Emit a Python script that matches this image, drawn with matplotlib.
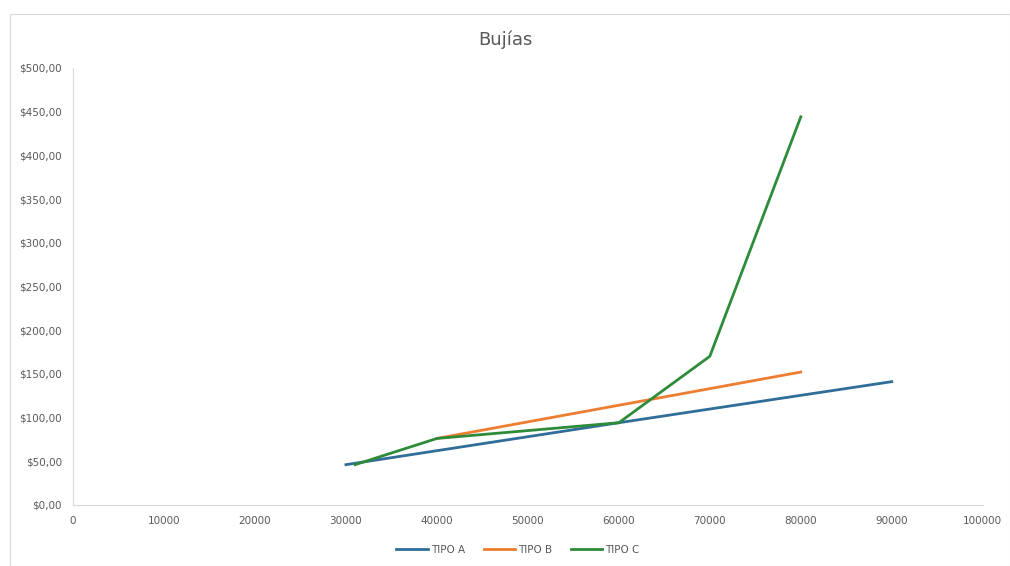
import matplotlib.pyplot as plt
from matplotlib.patches import Rectangle
from matplotlib.ticker import FuncFormatter

# datos
km_a = [30000, 60000, 90000]
tipo_a = [46, 94, 141]
km_b = [40000, 80000]
tipo_b = [76, 152]
km_c = [31000, 40000, 50000, 60000, 70000, 80000]
tipo_c = [46, 76, 85, 94, 170, 444]

fig = plt.figure(figsize=(10.1, 5.66), dpi=100)
ax = fig.add_axes([0.0723, 0.108, 0.9007, 0.772])

# marco del area del grafico
fig.patches.append(Rectangle((10 / 1010, 0), 1 - 10 / 1010, 1 - 14 / 566,
                             transform=fig.transFigure, fill=False,
                             edgecolor='#d9d9d9', linewidth=0.8))

ax.plot(km_a, tipo_a, color='#2f6e99', lw=2.0, label='TIPO A')
ax.plot(km_b, tipo_b, color='#ed7d31', lw=2.0, label='TIPO B')
ax.plot(km_c, tipo_c, color='#2e8b3a', lw=2.0, label='TIPO C')

ax.set_xlim(0, 100000)
ax.set_ylim(0, 500)
ax.set_xticks(range(0, 100001, 10000))
ax.set_yticks(range(0, 501, 50))
ax.yaxis.set_major_formatter(FuncFormatter(lambda v, p: f"${v:.2f}".replace('.', ',')))

for s in ['top', 'right']:
    ax.spines[s].set_visible(False)
for s in ['left', 'bottom']:
    ax.spines[s].set_color('#d9d9d9')
ax.tick_params(length=0, labelsize=7.5, labelcolor='#595959', pad=8)

fig.text(0.5, 1 - 40 / 566, 'Bujías', ha='center', va='center',
         fontsize=13, color='#595959')

fig.legend(loc='center', bbox_to_anchor=(518 / 1010, 1 - 550 / 566), ncol=3,
           frameon=False, fontsize=7.5, labelcolor='#595959',
           handlelength=3, columnspacing=1.8, handletextpad=0.3)

fig.savefig('out.png', dpi=100)
